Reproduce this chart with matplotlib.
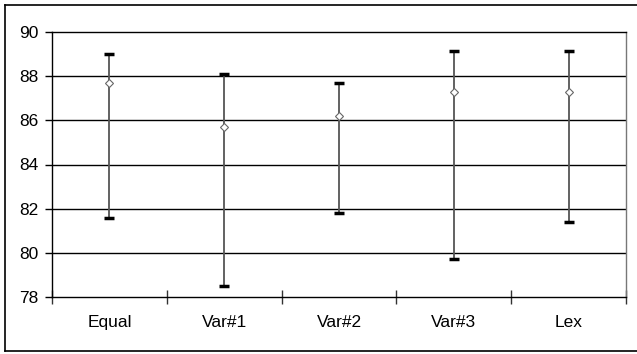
import numpy as np
import matplotlib
matplotlib.use("Agg")
import matplotlib.pyplot as plt
from matplotlib.lines import Line2D

categories = ["Equal", "Var#1", "Var#2", "Var#3", "Lex"]
high = [89.0, 88.1, 87.7, 89.15, 89.15]
low = [81.6, 78.5, 81.8, 79.7, 81.4]
mean = [87.7, 85.7, 86.2, 87.3, 87.3]

plt.rcParams['font.family'] = ['Liberation Sans', 'DejaVu Sans']

fig = plt.figure(figsize=(6.37, 3.54), dpi=100)
ax = fig.add_axes([52 / 637, 57 / 354, 574 / 637, 265 / 354])

x = np.arange(len(categories)) + 0.5

# grid lines
for yv in range(80, 90, 2):
    ax.axhline(yv, color="black", lw=1, zorder=1)

# high-low lines with caps
ax.vlines(x, low, high, color="#555555", lw=1.3, zorder=2)
ax.plot(x, high, ls="none", marker="_", ms=7, mew=2.5, color="black", zorder=3)
ax.plot(x, low, ls="none", marker="_", ms=7, mew=2.5, color="black", zorder=3)
ax.plot(x, mean, ls="none", marker="D", ms=4.5, mfc="white", mec="#666666", mew=0.8, zorder=4)

ax.set_xlim(0, len(categories))
ax.set_ylim(78, 90)
ax.set_yticks(range(78, 91, 2))
ax.tick_params(axis="y", direction="out", length=5, width=1, pad=5, labelsize=12.5)

ax.set_xticks(np.arange(len(categories) + 1))
ax.set_xticklabels([])
ax.set_xticks(x, minor=True)
ax.set_xticklabels(categories, minor=True)
ax.tick_params(axis="x", which="major", direction="inout", length=10, width=1, color="#333333")
ax.tick_params(axis="x", which="minor", length=0, pad=13, labelsize=12.5)

ax.spines["left"].set_color("black")
ax.spines["bottom"].set_color("black")
ax.spines["top"].set_color("black")
ax.spines["right"].set_color("#777777")
for s in ax.spines.values():
    s.set_linewidth(1)

# outer chart border
W, H = 637, 354
fig.add_artist(Line2D([5 / W, 5 / W], [1 - 5 / H, 1 - 351 / H], color="black", lw=1.2, transform=fig.transFigure))
fig.add_artist(Line2D([5 / W, 1], [1 - 5 / H, 1 - 5 / H], color="black", lw=1.2, transform=fig.transFigure))
fig.add_artist(Line2D([5 / W, 1], [1 - 351 / H, 1 - 351 / H], color="black", lw=1.2, transform=fig.transFigure))

fig.savefig("out.png", dpi=100)
